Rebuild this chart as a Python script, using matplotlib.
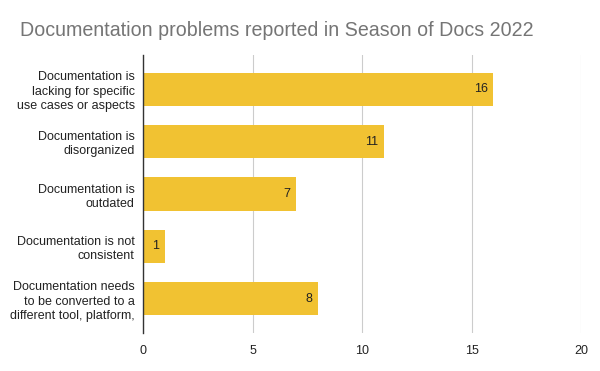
import matplotlib
matplotlib.use("Agg")
import matplotlib.pyplot as plt

categories = [
    "Documentation is\nlacking for specific\nuse cases or aspects",
    "Documentation is\ndisorganized",
    "Documentation is\noutdated",
    "Documentation is not\nconsistent",
    "Documentation needs\nto be converted to a\ndifferent tool, platform,",
]
values = [16, 11, 7, 1, 8]
xticks = [0, 5, 10, 15, 20]

plt.rcParams['font.family'] = ['Liberation Sans', 'DejaVu Sans']

fig = plt.figure(figsize=(6, 3.71), dpi=100)
ax = fig.add_axes([143/600, 1-333/371, (581-143)/600, (333-55)/371])

ypos = list(range(len(categories)))
ax.barh(ypos, values, height=0.63, color="#F1C232", zorder=3)
for y, v in zip(ypos, values):
    ax.text(v - 0.25, y, str(v), ha="right", va="center", fontsize=9, color="#222222", zorder=4)

ax.set_xlim(0, 20)
ax.set_ylim(len(categories) - 0.35, -0.65)
ax.set_xticks(xticks)
ax.set_xticklabels([str(t) for t in xticks], fontsize=9, color="#222222")
ax.set_yticks(ypos)
ax.set_yticklabels(categories, fontsize=9, color="#222222", linespacing=1.25)
ax.tick_params(axis="both", length=0, pad=6)
ax.tick_params(axis="x", pad=9)
ax.grid(axis="x", color="#CCCCCC", linewidth=0.8, zorder=0)
for s in ["top", "right", "bottom"]:
    ax.spines[s].set_visible(False)
ax.spines["left"].set_color("#333333")
ax.spines["left"].set_linewidth(1.0)
ax.spines["left"].set_zorder(5)

fig.text(20/600, 1-31/371, "Documentation problems reported in Season of Docs 2022",
         fontsize=14.1, color="#757575", ha="left", va="center")

fig.savefig("out.png", dpi=100)
